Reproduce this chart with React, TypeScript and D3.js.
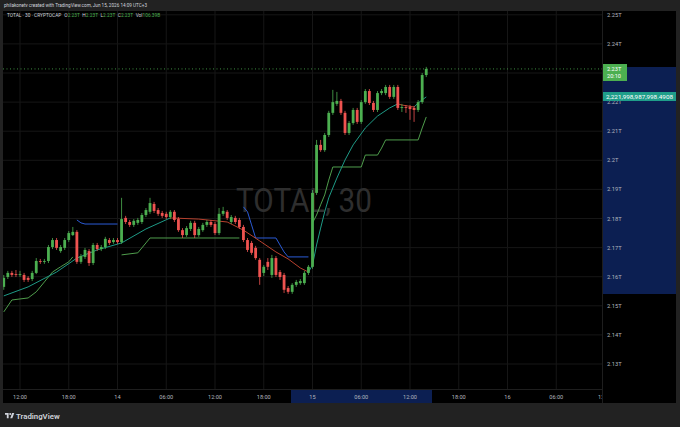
import React, { useEffect } from 'react'
import * as d3 from 'd3'

const W = 680
const H = 427

// 30 minute bars, first one at Jun 13 10:00
const firstBar = new Date(2026, 5, 13, 10, 0)
const barMs = 30 * 60 * 1000

// open, high, low, close (billions USD)
const ohlc: [number, number, number, number][] = [
  [2156.5, 2160.6, 2155.5, 2159.6],
  [2159.9, 2162.0, 2159.2, 2161.3],
  [2161.3, 2162.0, 2159.9, 2160.6],
  [2160.9, 2162.3, 2159.9, 2160.6],
  [2160.6, 2162.0, 2159.9, 2160.9],
  [2160.6, 2161.3, 2158.2, 2158.9],
  [2159.6, 2160.2, 2158.2, 2158.9],
  [2159.2, 2162.0, 2158.5, 2161.3],
  [2161.3, 2166.4, 2160.9, 2165.4],
  [2165.4, 2166.1, 2164.4, 2165.1],
  [2165.1, 2166.1, 2164.4, 2165.4],
  [2165.4, 2170.9, 2164.7, 2170.2],
  [2170.2, 2173.3, 2169.5, 2172.6],
  [2172.6, 2173.3, 2169.2, 2169.9],
  [2168.8, 2170.9, 2168.2, 2170.2],
  [2169.9, 2173.3, 2169.2, 2172.6],
  [2172.6, 2175.7, 2171.9, 2175.0],
  [2174.3, 2177.1, 2174.0, 2175.4],
  [2175.4, 2176.0, 2164.4, 2165.1],
  [2165.1, 2167.8, 2164.4, 2167.1],
  [2166.8, 2169.9, 2166.1, 2169.2],
  [2168.8, 2169.5, 2163.7, 2164.7],
  [2164.7, 2171.6, 2164.0, 2170.9],
  [2170.9, 2171.6, 2168.8, 2169.5],
  [2169.5, 2170.9, 2168.8, 2170.2],
  [2170.2, 2173.7, 2169.5, 2173.0],
  [2172.6, 2173.3, 2170.9, 2171.6],
  [2171.9, 2173.3, 2171.3, 2172.6],
  [2172.6, 2173.3, 2171.3, 2171.9],
  [2171.9, 2187.1, 2171.3, 2179.8],
  [2180.2, 2180.9, 2178.1, 2178.8],
  [2178.8, 2179.5, 2177.1, 2177.8],
  [2177.8, 2179.8, 2177.1, 2179.2],
  [2178.5, 2180.2, 2177.8, 2179.5],
  [2178.8, 2181.9, 2178.1, 2181.2],
  [2181.2, 2183.6, 2180.5, 2182.9],
  [2182.3, 2187.1, 2181.6, 2185.3],
  [2185.0, 2185.7, 2181.9, 2182.6],
  [2182.9, 2183.6, 2180.9, 2181.6],
  [2181.9, 2182.6, 2180.2, 2180.9],
  [2181.6, 2182.3, 2179.8, 2180.5],
  [2180.5, 2182.9, 2179.8, 2182.3],
  [2182.3, 2182.9, 2178.8, 2179.5],
  [2179.8, 2180.5, 2175.4, 2176.0],
  [2176.0, 2176.7, 2173.3, 2174.3],
  [2174.3, 2177.4, 2173.7, 2176.7],
  [2176.4, 2179.2, 2175.7, 2178.5],
  [2178.5, 2179.2, 2173.3, 2174.3],
  [2174.3, 2177.1, 2173.7, 2176.4],
  [2176.0, 2178.5, 2175.4, 2177.8],
  [2177.8, 2179.5, 2177.1, 2178.8],
  [2178.8, 2179.5, 2177.1, 2177.8],
  [2178.1, 2178.8, 2174.3, 2175.0],
  [2175.0, 2183.6, 2174.3, 2181.6],
  [2181.6, 2184.0, 2180.9, 2182.6],
  [2182.3, 2182.9, 2179.5, 2180.2],
  [2178.8, 2181.2, 2178.1, 2180.5],
  [2180.2, 2180.9, 2178.1, 2178.8],
  [2179.5, 2180.2, 2176.4, 2177.1],
  [2177.1, 2177.8, 2171.9, 2172.6],
  [2172.6, 2173.3, 2168.5, 2169.2],
  [2171.6, 2172.3, 2167.5, 2168.2],
  [2169.9, 2170.6, 2165.8, 2166.4],
  [2165.8, 2166.4, 2157.2, 2159.9],
  [2161.3, 2164.0, 2160.2, 2163.4],
  [2165.1, 2166.4, 2162.3, 2163.4],
  [2160.6, 2167.5, 2159.6, 2166.4],
  [2166.4, 2167.1, 2159.9, 2160.6],
  [2161.6, 2162.3, 2158.9, 2159.9],
  [2160.6, 2161.3, 2154.4, 2155.5],
  [2156.1, 2156.8, 2154.1, 2154.8],
  [2154.8, 2157.8, 2154.1, 2157.2],
  [2157.2, 2158.9, 2156.5, 2158.2],
  [2157.8, 2159.2, 2157.2, 2158.5],
  [2157.8, 2162.0, 2157.2, 2161.3],
  [2161.3, 2164.0, 2160.6, 2163.4],
  [2163.4, 2189.8, 2162.7, 2188.8],
  [2188.8, 2207.0, 2188.1, 2205.3],
  [2205.3, 2207.0, 2202.9, 2203.5],
  [2203.5, 2209.4, 2202.9, 2208.7],
  [2208.7, 2217.0, 2208.0, 2216.3],
  [2216.3, 2224.2, 2215.6, 2220.0],
  [2219.4, 2223.5, 2218.7, 2220.4],
  [2220.4, 2221.1, 2215.6, 2216.3],
  [2216.3, 2217.0, 2208.7, 2209.4],
  [2209.4, 2213.5, 2208.7, 2212.8],
  [2212.8, 2218.0, 2212.2, 2217.3],
  [2217.3, 2218.0, 2212.5, 2213.2],
  [2213.2, 2220.7, 2212.5, 2220.0],
  [2220.0, 2224.5, 2219.4, 2223.8],
  [2223.8, 2224.5, 2219.0, 2219.7],
  [2219.7, 2220.4, 2216.6, 2217.3],
  [2217.3, 2223.8, 2216.6, 2223.1],
  [2223.1, 2224.5, 2222.4, 2223.8],
  [2223.1, 2225.9, 2222.4, 2225.2],
  [2225.2, 2225.9, 2221.1, 2221.8],
  [2221.8, 2225.9, 2221.1, 2225.2],
  [2225.2, 2225.9, 2217.3, 2218.0],
  [2218.0, 2219.4, 2216.6, 2218.3],
  [2218.3, 2219.0, 2216.3, 2218.0],
  [2218.3, 2219.0, 2213.9, 2217.6],
  [2218.0, 2218.7, 2213.2, 2217.3],
  [2217.3, 2220.7, 2216.6, 2220.0],
  [2220.0, 2230.0, 2219.4, 2229.3],
  [2229.3, 2232.1, 2228.6, 2231.4],
]

// moving average: bar, value, trend of the segment that starts here
const maLine: [number, number, number][] = [
  [0, 2153.4, 1], [6, 2156.5, 1], [13, 2161.6, 1], [18, 2166.4, 1], [23, 2169.2, 1],
  [29, 2171.6, 1], [35, 2176.4, 1], [41, 2180.2, -1], [48, 2179.8, -1], [55, 2178.8, -1],
  [59, 2176.0, -1], [63, 2172.3, -1], [67, 2168.5, -1], [70, 2166.1, -1], [73, 2163.0, -1],
  [75, 2161.6, 1], [76, 2164.0, 1], [77, 2170.9, 1], [78, 2176.7, 1], [79, 2182.3, 1],
  [80, 2187.1, 1], [82, 2193.9, 1], [84, 2200.1, 1], [86, 2205.3, 1], [89, 2211.1, 1],
  [92, 2215.2, 1], [95, 2218.0, 1], [97, 2219.4, -1], [98, 2219.0, -1], [101, 2218.3, 1],
  [102, 2219.7, 1], [104, 2221.8, 1],
]

// supertrend pieces
const stUp: [number, number][][] = [
  [[0, 2147.9], [2, 2152.0], [6, 2152.7], [8, 2154.8], [10, 2158.2], [12, 2161.6],
   [14, 2163.4], [16, 2165.1], [17, 2166.8]],
  [[29, 2167.5], [33, 2168.2], [35, 2171.6], [36, 2173.3], [58, 2173.3]],
  [[76, 2178.5], [77, 2181.2], [78, 2184.7], [79, 2188.1], [80, 2193.2], [81, 2197.7],
   [88, 2197.7], [89, 2201.8], [92, 2201.8], [93, 2204.2], [94, 2207.0], [102, 2207.0],
   [103, 2211.1], [104, 2214.9]],
]
const stDown: [number, number][][] = [
  [[18, 2179.5], [19, 2178.5], [20, 2178.1], [28, 2178.1]],
  [[59, 2184.0], [60, 2182.3], [61, 2177.8], [62, 2173.3], [67, 2173.3], [68, 2170.9],
   [69, 2168.5], [70, 2166.8], [75, 2166.8]],
]

const priceTicks = [2130, 2140, 2150, 2160, 2170, 2180, 2190, 2200, 2210, 2220, 2230, 2240, 2250]

const UP = '#4caf50'
const DOWN = '#ef5350'
const TEXT = '#b2b5be'

const pane = { left: 3, top: 11, right: 602, bottom: 389 }

const x = d3
  .scaleTime()
  .domain([new Date(2026, 5, 13, 12), new Date(2026, 5, 15, 12)])
  .range([20, 410])
const y = d3.scaleLinear().domain([2130, 2250]).range([364, 14.8])
const barX = (k: number) => x(new Date(firstBar.getTime() + k * barMs))

const timeTicks = d3.timeHour.every(6)!.range(new Date(2026, 5, 13, 12), new Date(2026, 5, 16, 13))
const timeLabel = (d: Date) => (d.getHours() === 0 ? String(d.getDate()) : d3.timeFormat('%H:%M')(d))

const line = d3
  .line<[number, number]>()
  .x((d) => barX(d[0]))
  .y((d) => y(d[1]))

const App: React.FC = () => {
  useEffect(() => {
    document.body.style.margin = '0'
    document.body.style.background = '#222'
  }, [])

  // split the MA into coloured runs
  const maRuns: { trend: number; pts: [number, number][] }[] = []
  maLine.forEach((p, i) => {
    if (i === maLine.length - 1) return
    const next = maLine[i + 1]
    const last = maRuns[maRuns.length - 1]
    if (last && last.trend === p[2]) last.pts.push([next[0], next[1]])
    else maRuns.push({ trend: p[2], pts: [[p[0], p[1]], [next[0], next[1]]] })
  })

  const lastClose = ohlc[ohlc.length - 1][3]
  const fmtT = (v: number) => `${+(v / 1000).toFixed(2)}T`
  const lastY = y(lastClose)
  // the last-price badge covers the tick underneath it
  const axisTicks = priceTicks.filter((v) => Math.abs(y(v) - lastY) > 8)

  return (
    <svg width={W} height={H} style={{ display: 'block', fontFamily: 'Roboto, sans-serif' }}>
      <rect width={W} height={H} fill="#222" />
      <text x={4} y={7} fontSize={5} fill="#d1d4dc" textLength={143} lengthAdjust="spacingAndGlyphs">
        philakonetv created with TradingView.com, Jun 15, 2026 14:09 UTC+3
      </text>
      <rect x={3} y={11} width={673} height={392} fill="#000" />

      <defs>
        <clipPath id="pane">
          <rect x={pane.left} y={pane.top} width={pane.right - pane.left} height={pane.bottom - pane.top} />
        </clipPath>
        <clipPath id="timeaxis">
          <rect x={pane.left} y={pane.bottom} width={pane.right - pane.left} height={14} />
        </clipPath>
      </defs>

      {/* grid */}
      <g stroke="#161616" strokeWidth={1} clipPath="url(#pane)">
        {timeTicks.map((d, i) => (
          <line key={i} x1={x(d)} x2={x(d)} y1={pane.top} y2={pane.bottom} />
        ))}
        {priceTicks.map((v) => (
          <line key={v} x1={pane.left} x2={pane.right} y1={y(v)} y2={y(v)} />
        ))}
      </g>

      {/* watermark */}
      <text
        x={304}
        y={212}
        textAnchor="middle"
        fontSize={34}
        fill="#2e2e2e"
        textLength={136}
        lengthAdjust="spacingAndGlyphs"
      >
        TOTAL, 30
      </text>

      <g clipPath="url(#pane)">
        {/* supertrend */}
        {stUp.map((s, i) => (
          <path key={'u' + i} d={line(s)!} fill="none" stroke="#4f9d4c" strokeWidth={1} />
        ))}
        {stDown.map((s, i) => (
          <path key={'d' + i} d={line(s)!} fill="none" stroke="#2b5bd6" strokeWidth={1} />
        ))}
        {/* moving average */}
        {maRuns.map((r, i) => (
          <path key={'m' + i} d={line(r.pts)!} fill="none" stroke={r.trend > 0 ? '#1e9a86' : '#b8412e'} strokeWidth={1} />
        ))}

        {/* candles */}
        {ohlc.map(([o, h, l, c], k) => {
          const cx = barX(k)
          const col = c >= o ? UP : DOWN
          const top = y(Math.max(o, c))
          const bh = Math.max(0.8, Math.abs(y(o) - y(c)))
          return (
            <g key={k}>
              <line x1={cx} x2={cx} y1={y(h)} y2={y(l)} stroke={col} strokeWidth={0.8} />
              <rect x={cx - 1.4} y={top} width={2.8} height={bh} fill={col} />
            </g>
          )
        })}

        {/* last price line */}
        <line
          x1={pane.left}
          x2={pane.right}
          y1={lastY}
          y2={lastY}
          stroke={UP}
          strokeWidth={0.8}
          strokeDasharray="1 2.5"
        />
      </g>

      {/* header */}
      <text x={7} y={17} fontSize={4.8} fill="#d1d4dc">
        TOTAL · 30 · CRYPTOCAP
        <tspan dx={3} fill="#d1d4dc">O</tspan>
        <tspan fill={UP}>2.23T</tspan>
        <tspan dx={2.5} fill="#d1d4dc">H</tspan>
        <tspan fill={UP}>2.23T</tspan>
        <tspan dx={2.5} fill="#d1d4dc">L</tspan>
        <tspan fill={UP}>2.23T</tspan>
        <tspan dx={2.5} fill="#d1d4dc">C</tspan>
        <tspan fill={UP}>2.23T</tspan>
        <tspan dx={2.5} fill="#d1d4dc">Vol</tspan>
        <tspan fill={UP}>106.39B</tspan>
      </text>

      {/* right price axis */}
      <rect x={603} y={67} width={73} height={227} fill="#0c1f52" />
      <line x1={602.5} x2={602.5} y1={pane.top} y2={403} stroke="#1e1e1e" />
      {axisTicks.map((v) => (
        <text key={v} x={607} y={y(v) + 2} fontSize={5.8} fill={TEXT}>
          {fmtT(v)}
        </text>
      ))}
      <rect x={603} y={64} width={24} height={17} fill={UP} />
      <text x={607} y={71} fontSize={5.6} fill="#fff">
        {fmtT(lastClose)}
      </text>
      <text x={607} y={78} fontSize={5.6} fill="#fff">
        20:10
      </text>
      <rect x={603} y={92} width={73} height={9} fill="#1f9e8a" />
      <text x={606} y={98.6} fontSize={5.2} fill="#fff" textLength={67} lengthAdjust="spacingAndGlyphs">
        2,221,998,987,998.4908
      </text>

      {/* time axis */}
      <line x1={pane.left} x2={pane.right} y1={pane.bottom + 0.5} y2={pane.bottom + 0.5} stroke="#1e1e1e" />
      <rect x={291} y={390} width={141} height={13} fill="#0c1f52" />
      <g clipPath="url(#timeaxis)">
        {timeTicks.map((d, i) => (
          <text key={i} x={x(d)} y={398.5} fontSize={5.6} fill={TEXT} textAnchor="middle">
            {timeLabel(d)}
          </text>
        ))}
      </g>

      {/* footer logo */}
      <g transform="translate(5,412) scale(0.26)" fill="#d1d4dc">
        <path d="M14 24H7V11H0V4h14v20z" />
        <circle cx={20} cy={8} r={4} />
        <path d="M28 24h-8l7.5-20h8L28 24z" />
      </g>
      <text x={16} y={418.5} fontSize={7.8} fontWeight={600} fill="#d1d4dc">
        TradingView
      </text>
    </svg>
  )
}

export default App
